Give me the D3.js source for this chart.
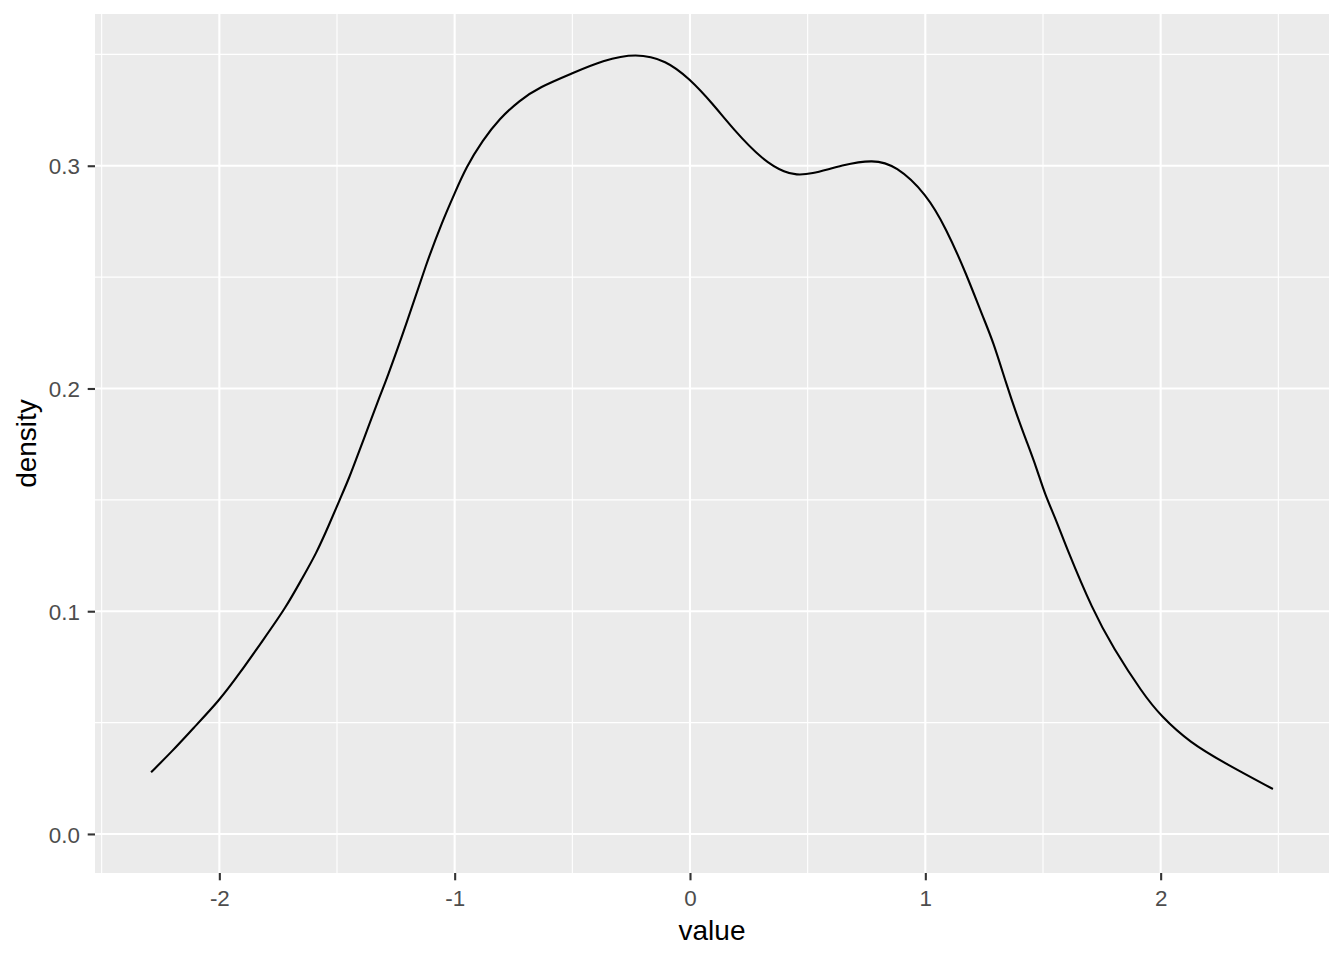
<!DOCTYPE html>
<html>
<head>
<meta charset="utf-8">
<script src="https://cdn.jsdelivr.net/npm/d3@7"></script>
<style>
  body { margin: 0; background: #fff; }
  text { font-family: "Liberation Sans", Arial, sans-serif; }
</style>
</head>
<body>
<div id="chart"></div>
<script>
var xValues = [-2.290, -2.198, -2.113, -2.000, -1.915, -1.816, -1.716, -1.646, -1.589, -1.532,
  -1.490, -1.447, -1.405, -1.362, -1.320, -1.291, -1.200, -1.121, -1.051, -1.001,
  -0.951, -0.881, -0.810, -0.725, -0.640, -0.498, -0.371, -0.229, -0.101, -0.002,
  0.097, 0.182, 0.309, 0.409, 0.451, 0.508, 0.650, 0.777, 0.876, 1.004,
  1.089, 1.174, 1.245, 1.287, 1.344, 1.387, 1.429, 1.472, 1.507, 1.557,
  1.599, 1.712, 1.797, 1.925, 2.000, 2.123, 2.279, 2.477]
var densityValues = [0.0277, 0.0374, 0.0472, 0.0599, 0.0719, 0.0868, 0.1018, 0.1152, 0.1257, 0.1392,
  0.1497, 0.1601, 0.1721, 0.1841, 0.1961, 0.2036, 0.2305, 0.2560, 0.2754, 0.2874,
  0.2994, 0.3114, 0.3211, 0.3293, 0.3353, 0.3416, 0.3473, 0.3506, 0.3473, 0.3391,
  0.3278, 0.3166, 0.3024, 0.2967, 0.2960, 0.2960, 0.3004, 0.3028, 0.3001, 0.2874,
  0.2717, 0.2515, 0.2320, 0.2215, 0.2021, 0.1886, 0.1766, 0.1646, 0.1527, 0.1407,
  0.1287, 0.1003, 0.0838, 0.0629, 0.0531, 0.0411, 0.0314, 0.0202]
var xTicks = [-2, -1, 0, 1, 2]
var xMinor = [-2.5, -1.5, -0.5, 0.5, 1.5, 2.5]
var yTicks = [0, 0.1, 0.2, 0.3]
var yMinor = [0.05, 0.15, 0.25, 0.35]

// dimensions
var width = 1344
var height = 960
var panel = {left: 95, right: 1329, top: 14, bottom: 873}

var svg = d3.select("#chart")
  .append("svg")
    .attr("width", width)
    .attr("height", height)

// échelles avec expansion de 5 % comme ggplot
var xr = [d3.min(xValues), d3.max(xValues)]
var xPad = (xr[1] - xr[0]) * 0.05
var x = d3.scaleLinear()
  .domain([xr[0] - xPad, xr[1] + xPad])
  .range([panel.left, panel.right])

var yMax = d3.max(densityValues)
var y = d3.scaleLinear()
  .domain([-yMax * 0.05, yMax * 1.05])
  .range([panel.bottom, panel.top])

// fond du panneau
svg.append("rect")
  .attr("x", panel.left)
  .attr("y", panel.top)
  .attr("width", panel.right - panel.left)
  .attr("height", panel.bottom - panel.top)
  .style("fill", "#EBEBEB")

// grilles mineures puis majeures
var grid = svg.append("g")
grid.selectAll(".vminor").data(xMinor).enter().append("line")
  .attr("x1", function(d){ return x(d) }).attr("x2", function(d){ return x(d) })
  .attr("y1", panel.top).attr("y2", panel.bottom)
  .style("stroke", "#fff").style("stroke-width", 1.1)
grid.selectAll(".hminor").data(yMinor).enter().append("line")
  .attr("y1", function(d){ return y(d) }).attr("y2", function(d){ return y(d) })
  .attr("x1", panel.left).attr("x2", panel.right)
  .style("stroke", "#fff").style("stroke-width", 1.1)
grid.selectAll(".vmajor").data(xTicks).enter().append("line")
  .attr("x1", function(d){ return x(d) }).attr("x2", function(d){ return x(d) })
  .attr("y1", panel.top).attr("y2", panel.bottom)
  .style("stroke", "#fff").style("stroke-width", 2.1)
grid.selectAll(".hmajor").data(yTicks).enter().append("line")
  .attr("y1", function(d){ return y(d) }).attr("y2", function(d){ return y(d) })
  .attr("x1", panel.left).attr("x2", panel.right)
  .style("stroke", "#fff").style("stroke-width", 2.1)

// courbe de densité (lissage léger des points lus)
var pts = xValues.map(function(d, i){ return [d, densityValues[i]] })
svg.append("path")
  .datum(pts)
  .attr("d", d3.line()
    .x(function(d){ return x(d[0]) })
    .y(function(d){ return y(d[1]) })
    .curve(d3.curveBasis))
  .style("fill", "none")
  .style("stroke", "#000")
  .style("stroke-width", 2.1)

// axes
var xAxis = svg.append("g")
  .attr("transform", "translate(0," + panel.bottom + ")")
  .call(d3.axisBottom(x).tickValues(xTicks).tickSize(7.3).tickPadding(5)
    .tickFormat(function(d){ return String(d) }))
var yAxis = svg.append("g")
  .attr("transform", "translate(" + panel.left + ",0)")
  .call(d3.axisLeft(y).tickValues(yTicks).tickSize(7.3).tickPadding(5)
    .tickFormat(function(d){ return d.toFixed(1) }))

;[xAxis, yAxis].forEach(function(a){
  a.select(".domain").remove()
  a.selectAll(".tick line").style("stroke", "#333333").style("stroke-width", 2.1)
  a.selectAll(".tick text")
    .style("fill", "#4D4D4D")
    .style("font-size", "22.4px")
    .style("font-family", "Liberation Sans, Arial, sans-serif")
})
xAxis.selectAll(".tick text").attr("dy", null).attr("y", 33)
yAxis.selectAll(".tick text").attr("dy", "0.36em").attr("x", -15)

// titres des axes
svg.append("text")
  .attr("x", (panel.left + panel.right) / 2)
  .attr("y", 940)
  .attr("text-anchor", "middle")
  .style("font-size", "28px")
  .style("fill", "#000")
  .text("value")

svg.append("text")
  .attr("transform", "translate(36," + ((panel.top + panel.bottom) / 2) + ") rotate(-90)")
  .attr("text-anchor", "middle")
  .style("font-size", "28px")
  .style("fill", "#000")
  .text("density")
</script>
</body>
</html>
